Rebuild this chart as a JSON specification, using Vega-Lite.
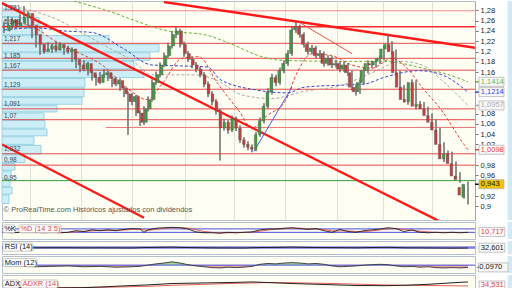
{
"$schema":"https://vega.github.io/schema/vega-lite/v6.json",
"padding":0,
"background":"#ffffff",
"bounds":"flush",
"spacing":2,
"config":{"view":{"stroke":"#b4c0cc","fill":"#fefef3","strokeWidth":1},"font":"Liberation Sans"},
"datasets":{
"candles":[
{"t":0,"o":1.240,"h":1.258,"l":1.236,"c":1.251},{"t":1,"o":1.251,"h":1.268,"l":1.246,"c":1.261},{"t":2,"o":1.261,"h":1.266,"l":1.243,"c":1.248},{"t":3,"o":1.248,"h":1.262,"l":1.244,"c":1.255},{"t":4,"o":1.255,"h":1.272,"l":1.250,"c":1.266},{"t":5,"o":1.266,"h":1.288,"l":1.260,"c":1.274},{"t":6,"o":1.274,"h":1.278,"l":1.246,"c":1.251},{"t":7,"o":1.251,"h":1.255,"l":1.226,"c":1.233},{"t":8,"o":1.233,"h":1.238,"l":1.208,"c":1.214},{"t":9,"o":1.214,"h":1.219,"l":1.194,"c":1.200},
{"t":10,"o":1.200,"h":1.212,"l":1.196,"c":1.205},{"t":11,"o":1.205,"h":1.218,"l":1.200,"c":1.211},{"t":12,"o":1.211,"h":1.215,"l":1.198,"c":1.203},{"t":13,"o":1.203,"h":1.220,"l":1.199,"c":1.214},{"t":14,"o":1.214,"h":1.218,"l":1.202,"c":1.207},{"t":15,"o":1.207,"h":1.211,"l":1.194,"c":1.200},{"t":16,"o":1.200,"h":1.211,"l":1.196,"c":1.205},{"t":17,"o":1.205,"h":1.208,"l":1.180,"c":1.185},{"t":18,"o":1.185,"h":1.190,"l":1.168,"c":1.174},{"t":19,"o":1.174,"h":1.178,"l":1.160,"c":1.166},
{"t":20,"o":1.166,"h":1.183,"l":1.162,"c":1.177},{"t":21,"o":1.177,"h":1.180,"l":1.154,"c":1.159},{"t":22,"o":1.159,"h":1.164,"l":1.144,"c":1.150},{"t":23,"o":1.150,"h":1.155,"l":1.134,"c":1.140},{"t":24,"o":1.140,"h":1.160,"l":1.137,"c":1.155},{"t":25,"o":1.155,"h":1.166,"l":1.150,"c":1.159},{"t":26,"o":1.159,"h":1.163,"l":1.143,"c":1.148},{"t":27,"o":1.148,"h":1.152,"l":1.131,"c":1.137},{"t":28,"o":1.137,"h":1.150,"l":1.133,"c":1.144},{"t":29,"o":1.144,"h":1.148,"l":1.124,"c":1.129},
{"t":30,"o":1.129,"h":1.133,"l":1.112,"c":1.118},{"t":31,"o":1.118,"h":1.122,"l":1.039,"c":1.103},{"t":32,"o":1.103,"h":1.119,"l":1.096,"c":1.113},{"t":33,"o":1.113,"h":1.116,"l":1.075,"c":1.081},{"t":34,"o":1.081,"h":1.086,"l":1.056,"c":1.063},{"t":35,"o":1.063,"h":1.094,"l":1.058,"c":1.089},{"t":36,"o":1.089,"h":1.113,"l":1.084,"c":1.107},{"t":37,"o":1.107,"h":1.146,"l":1.103,"c":1.140},{"t":38,"o":1.140,"h":1.161,"l":1.136,"c":1.155},{"t":39,"o":1.155,"h":1.179,"l":1.150,"c":1.174},
{"t":40,"o":1.174,"h":1.198,"l":1.170,"c":1.192},{"t":41,"o":1.192,"h":1.217,"l":1.188,"c":1.211},{"t":42,"o":1.211,"h":1.240,"l":1.206,"c":1.233},{"t":43,"o":1.233,"h":1.248,"l":1.226,"c":1.240},{"t":44,"o":1.240,"h":1.244,"l":1.208,"c":1.214},{"t":45,"o":1.214,"h":1.219,"l":1.190,"c":1.196},{"t":46,"o":1.196,"h":1.201,"l":1.180,"c":1.185},{"t":47,"o":1.185,"h":1.190,"l":1.168,"c":1.174},{"t":48,"o":1.174,"h":1.180,"l":1.160,"c":1.166},{"t":49,"o":1.166,"h":1.170,"l":1.150,"c":1.155},
{"t":50,"o":1.155,"h":1.160,"l":1.131,"c":1.137},{"t":51,"o":1.137,"h":1.142,"l":1.112,"c":1.118},{"t":52,"o":1.118,"h":1.123,"l":1.096,"c":1.103},{"t":53,"o":1.103,"h":1.108,"l":1.078,"c":1.085},{"t":54,"o":1.085,"h":1.089,"l":0.989,"c":1.052},{"t":55,"o":1.052,"h":1.070,"l":1.047,"c":1.063},{"t":56,"o":1.063,"h":1.067,"l":1.041,"c":1.048},{"t":57,"o":1.048,"h":1.076,"l":1.044,"c":1.070},{"t":58,"o":1.070,"h":1.074,"l":1.046,"c":1.052},{"t":59,"o":1.052,"h":1.057,"l":1.023,"c":1.029},
{"t":60,"o":1.029,"h":1.034,"l":1.014,"c":1.020},{"t":61,"o":1.020,"h":1.026,"l":1.009,"c":1.015},{"t":62,"o":1.015,"h":1.020,"l":1.005,"c":1.011},{"t":63,"o":1.011,"h":1.044,"l":1.007,"c":1.039},{"t":64,"o":1.039,"h":1.072,"l":1.035,"c":1.066},{"t":65,"o":1.066,"h":1.100,"l":1.061,"c":1.094},{"t":66,"o":1.094,"h":1.129,"l":1.089,"c":1.122},{"t":67,"o":1.122,"h":1.157,"l":1.117,"c":1.150},{"t":68,"o":1.150,"h":1.155,"l":1.133,"c":1.140},{"t":69,"o":1.140,"h":1.169,"l":1.136,"c":1.163},
{"t":70,"o":1.163,"h":1.183,"l":1.158,"c":1.177},{"t":71,"o":1.177,"h":1.203,"l":1.172,"c":1.196},{"t":72,"o":1.196,"h":1.249,"l":1.192,"c":1.242},{"t":73,"o":1.242,"h":1.257,"l":1.236,"c":1.248},{"t":74,"o":1.248,"h":1.252,"l":1.227,"c":1.233},{"t":75,"o":1.233,"h":1.237,"l":1.208,"c":1.214},{"t":76,"o":1.214,"h":1.219,"l":1.194,"c":1.200},{"t":77,"o":1.200,"h":1.213,"l":1.196,"c":1.207},{"t":78,"o":1.207,"h":1.211,"l":1.186,"c":1.192},{"t":79,"o":1.192,"h":1.203,"l":1.187,"c":1.196},
{"t":80,"o":1.196,"h":1.200,"l":1.171,"c":1.177},{"t":81,"o":1.177,"h":1.193,"l":1.173,"c":1.187},{"t":82,"o":1.187,"h":1.191,"l":1.168,"c":1.174},{"t":83,"o":1.174,"h":1.184,"l":1.169,"c":1.177},{"t":84,"o":1.177,"h":1.181,"l":1.160,"c":1.166},{"t":85,"o":1.166,"h":1.180,"l":1.161,"c":1.174},{"t":86,"o":1.174,"h":1.178,"l":1.153,"c":1.159},{"t":87,"o":1.159,"h":1.163,"l":1.125,"c":1.131},{"t":88,"o":1.131,"h":1.136,"l":1.115,"c":1.122},{"t":89,"o":1.122,"h":1.146,"l":1.118,"c":1.140},
{"t":90,"o":1.140,"h":1.169,"l":1.136,"c":1.163},{"t":91,"o":1.163,"h":1.183,"l":1.158,"c":1.177},{"t":92,"o":1.177,"h":1.182,"l":1.168,"c":1.174},{"t":93,"o":1.174,"h":1.187,"l":1.169,"c":1.181},{"t":94,"o":1.181,"h":1.193,"l":1.176,"c":1.187},{"t":95,"o":1.187,"h":1.212,"l":1.183,"c":1.205},{"t":96,"o":1.205,"h":1.233,"l":1.200,"c":1.214},{"t":97,"o":1.214,"h":1.220,"l":1.194,"c":1.200},{"t":98,"o":1.200,"h":1.204,"l":1.153,"c":1.159},{"t":99,"o":1.159,"h":1.163,"l":1.125,"c":1.131},
{"t":100,"o":1.131,"h":1.135,"l":1.101,"c":1.107},{"t":101,"o":1.107,"h":1.112,"l":1.097,"c":1.103},{"t":102,"o":1.103,"h":1.146,"l":1.099,"c":1.140},{"t":103,"o":1.140,"h":1.144,"l":1.088,"c":1.094},{"t":104,"o":1.094,"h":1.104,"l":1.089,"c":1.098},{"t":105,"o":1.098,"h":1.102,"l":1.083,"c":1.089},{"t":106,"o":1.089,"h":1.093,"l":1.070,"c":1.076},{"t":107,"o":1.076,"h":1.080,"l":1.057,"c":1.063},{"t":108,"o":1.063,"h":1.068,"l":1.042,"c":1.048},{"t":109,"o":1.048,"h":1.052,"l":1.014,"c":1.020},
{"t":110,"o":1.020,"h":1.024,"l":0.986,"c":0.992},{"t":111,"o":0.992,"h":1.008,"l":0.987,"c":1.002},{"t":112,"o":1.002,"h":1.006,"l":0.977,"c":0.983},{"t":113,"o":0.983,"h":0.987,"l":0.953,"c":0.959},{"t":114,"o":0.959,"h":0.966,"l":0.946,"c":0.952},{"t":115,"o":0.937,"h":0.941,"l":0.915,"c":0.922},{"t":116,"o":0.918,"h":0.948,"l":0.904,"c":0.943}
],
"ma":[
{"k":"long","t":15,"v":1.303},{"k":"long","t":22,"v":1.288},{"k":"long","t":26,"v":1.279},{"k":"long","t":32,"v":1.262},{"k":"long","t":41,"v":1.240},{"k":"long","t":50,"v":1.233},{"k":"long","t":57,"v":1.214},{"k":"long","t":64.5,"v":1.190},{"k":"long","t":69.5,"v":1.183},{"k":"long","t":84.5,"v":1.181},{"k":"long","t":94.5,"v":1.181},{"k":"long","t":99.5,"v":1.177},{"k":"long","t":104.5,"v":1.168},{"k":"long","t":109.5,"v":1.159},{"k":"long","t":116,"v":1.1414},
{"k":"mid","t":0,"v":1.242},{"k":"mid","t":8,"v":1.246},{"k":"mid","t":15,"v":1.240},{"k":"mid","t":22,"v":1.237},{"k":"mid","t":30,"v":1.205},{"k":"mid","t":37,"v":1.174},{"k":"mid","t":45,"v":1.172},{"k":"mid","t":51,"v":1.170},{"k":"mid","t":54,"v":1.146},{"k":"mid","t":62.75,"v":1.126},{"k":"mid","t":71,"v":1.120},{"k":"mid","t":75,"v":1.131},{"k":"mid","t":84.5,"v":1.135},{"k":"mid","t":90,"v":1.137},{"k":"mid","t":95,"v":1.150},{"k":"mid","t":103.75,"v":1.163},{"k":"mid","t":109.5,"v":1.155},{"k":"mid","t":116,"v":1.1214},
{"k":"slow","t":0,"v":1.290},{"k":"slow","t":5,"v":1.283},{"k":"slow","t":12.75,"v":1.264},{"k":"slow","t":20.25,"v":1.233},{"k":"slow","t":25.75,"v":1.209},{"k":"slow","t":32,"v":1.183},{"k":"slow","t":37,"v":1.155},{"k":"slow","t":47,"v":1.155},{"k":"slow","t":52.75,"v":1.146},{"k":"slow","t":59.5,"v":1.116},{"k":"slow","t":67,"v":1.109},{"k":"slow","t":74.5,"v":1.122},{"k":"slow","t":84.5,"v":1.135},{"k":"slow","t":92,"v":1.159},{"k":"slow","t":99.5,"v":1.181},{"k":"slow","t":104.5,"v":1.174},{"k":"slow","t":109.5,"v":1.144},{"k":"slow","t":116,"v":1.0957},
{"k":"fast","t":0,"v":1.261},{"k":"fast","t":7.75,"v":1.246},{"k":"fast","t":13.25,"v":1.218},{"k":"fast","t":17.75,"v":1.201},{"k":"fast","t":24.5,"v":1.174},{"k":"fast","t":32,"v":1.122},{"k":"fast","t":35.75,"v":1.107},{"k":"fast","t":39.5,"v":1.137},{"k":"fast","t":44.5,"v":1.187},{"k":"fast","t":48.75,"v":1.190},{"k":"fast","t":53.25,"v":1.140},{"k":"fast","t":58.75,"v":1.085},{"k":"fast","t":62,"v":1.052},{"k":"fast","t":65.75,"v":1.076},{"k":"fast","t":70.25,"v":1.103},{"k":"fast","t":73.25,"v":1.159},{"k":"fast","t":77,"v":1.196},{"k":"fast","t":82,"v":1.192},{"k":"fast","t":87,"v":1.174},{"k":"fast","t":92,"v":1.168},{"k":"fast","t":97,"v":1.187},{"k":"fast","t":100.75,"v":1.168},{"k":"fast","t":104.5,"v":1.131},{"k":"fast","t":109.5,"v":1.085},{"k":"fast","t":115,"v":1.020},{"k":"fast","t":116,"v":1.0098}
],
"trend":[{"id":"a","t":-0.5,"p":1.294},{"id":"a","t":110,"p":0.867},{"id":"b","t":-0.5,"p":1.020},{"id":"b","t":35,"p":0.878},{"id":"c","t":40,"p":1.296},{"id":"c","t":118.25,"p":1.207}],
"thinred":[{"t":73.75,"p":1.257},{"t":87,"p":1.196}],
"thinblue":[{"t":62.5,"p":1.007},{"t":72,"p":1.131}],
"levels":[{"p":1.216},{"p":1.187},{"p":1.164},{"p":1.127},{"p":1.089},{"p":1.068},{"p":1.002},{"p":0.980}],
"vp":[
{"p1":1.2828,"p2":1.2680,"vol":1.8},{"p1":1.2661,"p2":1.2513,"vol":3.7},{"p1":1.2495,"p2":1.2328,"vol":4.0},{"p1":1.2310,"p2":1.2162,"vol":10.7},{"p1":1.2143,"p2":1.1995,"vol":15.7},{"p1":1.1977,"p2":1.1829,"vol":14.8},{"p1":1.1811,"p2":1.1663,"vol":13.2},{"p1":1.1644,"p2":1.1496,"vol":14.2},{"p1":1.1478,"p2":1.1311,"vol":8.3},{"p1":1.1293,"p2":1.1127,"vol":8.2},{"p1":1.1108,"p2":1.0979,"vol":8.0},{"p1":1.0960,"p2":1.0831,"vol":5.5},{"p1":1.0812,"p2":1.0683,"vol":4.2},{"p1":1.0664,"p2":1.0516,"vol":4.3},{"p1":1.0498,"p2":1.0368,"vol":4.5},{"p1":1.0350,"p2":1.0202,"vol":3.2},{"p1":1.0183,"p2":1.0017,"vol":3.9},{"p1":0.9999,"p2":0.9851,"vol":2.3},{"p1":0.9832,"p2":0.9703,"vol":1.3},{"p1":0.9684,"p2":0.9536,"vol":0.9},{"p1":0.9518,"p2":0.9388,"vol":0.8},{"p1":0.9370,"p2":0.9240,"vol":1.0},{"p1":0.9222,"p2":0.9056,"vol":0.7}
],
"vplab":[{"p":1.284,"s":"1,281"},{"p":1.257,"s":"1,243"},{"p":1.224,"s":"1,217"},{"p":1.192,"s":"1,185"},{"p":1.172,"s":"1,167"},{"p":1.135,"s":"1,129"},{"p":1.098,"s":"1,091"},{"p":1.076,"s":"1,07"},{"p":1.011,"s":"1,032"},{"p":0.989,"s":"0,98"},{"p":0.955,"s":"0,95"}],
"tags":[{"p":1.1414,"s":"1,1414","k":"long"},{"p":1.1214,"s":"1,1214","k":"mid"},{"p":1.0957,"s":"1,0957","k":"slow"},{"p":1.0098,"s":"1,0098","k":"fast"},{"p":0.943,"s":"0,943","k":"price"}],
"stoch":[
{"t":0,"k":20,"d":20},{"t":2,"k":13,"d":18},{"t":4,"k":20,"d":17},{"t":6,"k":27,"d":20},{"t":8,"k":20,"d":22},{"t":10,"k":13,"d":18},{"t":12,"k":20,"d":16},{"t":14,"k":13,"d":16},{"t":16,"k":20,"d":17},{"t":18,"k":49,"d":30},{"t":20,"k":34,"d":38},{"t":22,"k":63,"d":48},{"t":24,"k":49,"d":52},{"t":26,"k":63,"d":56},{"t":28,"k":49,"d":55},{"t":30,"k":71,"d":60},{"t":32,"k":85,"d":70},{"t":34,"k":78,"d":80},{"t":35,"k":20,"d":62},{"t":36,"k":63,"d":55},{"t":38,"k":92,"d":70},{"t":40,"k":100,"d":90},{"t":42,"k":107,"d":100},{"t":44,"k":100,"d":103},{"t":46,"k":78,"d":95},{"t":48,"k":27,"d":65},{"t":50,"k":13,"d":35},{"t":52,"k":13,"d":18},{"t":54,"k":5,"d":10},{"t":56,"k":20,"d":12},{"t":58,"k":13,"d":14},{"t":60,"k":20,"d":18},{"t":62,"k":27,"d":22},{"t":64,"k":63,"d":40},{"t":66,"k":78,"d":60},{"t":68,"k":78,"d":75},{"t":70,"k":92,"d":83},{"t":72,"k":100,"d":92},{"t":74,"k":85,"d":92},{"t":76,"k":71,"d":82},{"t":78,"k":85,"d":78},{"t":80,"k":49,"d":68},{"t":82,"k":20,"d":45},{"t":84,"k":71,"d":45},{"t":86,"k":34,"d":45},{"t":88,"k":20,"d":35},{"t":90,"k":49,"d":32},{"t":92,"k":63,"d":45},{"t":94,"k":78,"d":62},{"t":96,"k":100,"d":80},{"t":98,"k":85,"d":88},{"t":100,"k":34,"d":70},{"t":102,"k":63,"d":55},{"t":104,"k":20,"d":40},{"t":106,"k":13,"d":28},{"t":108,"k":20,"d":18},{"t":110,"k":13,"d":16},{"t":112,"k":20,"d":17},{"t":114,"k":13,"d":16},{"t":116,"k":20,"d":17}
],
"rsi":[{"t":0,"v":45},{"t":4,"v":55},{"t":8,"v":40},{"t":12,"v":42},{"t":16,"v":43},{"t":20,"v":38},{"t":24,"v":40},{"t":28,"v":38},{"t":32,"v":35},{"t":36,"v":52},{"t":40,"v":60},{"t":42,"v":65},{"t":44,"v":55},{"t":48,"v":45},{"t":52,"v":38},{"t":56,"v":35},{"t":60,"v":33},{"t":64,"v":50},{"t":68,"v":55},{"t":72,"v":65},{"t":76,"v":55},{"t":80,"v":48},{"t":84,"v":46},{"t":88,"v":40},{"t":92,"v":50},{"t":96,"v":58},{"t":100,"v":40},{"t":104,"v":38},{"t":108,"v":33},{"t":112,"v":28},{"t":116,"v":32.6}],
"mom":[{"t":0,"m":-0.035},{"t":4,"m":-0.053},{"t":8,"m":-0.07},{"t":12,"m":-0.053},{"t":16,"m":-0.035},{"t":20,"m":-0.07},{"t":24,"m":-0.053},{"t":28,"m":-0.088},{"t":32,"m":-0.07},{"t":34,"m":-0.053},{"t":36,"m":0},{"t":38,"m":0.053},{"t":40,"m":0.088},{"t":42,"m":0.14},{"t":44,"m":0.088},{"t":46,"m":0.018},{"t":48,"m":-0.035},{"t":50,"m":-0.07},{"t":52,"m":-0.106},{"t":54,"m":-0.12},{"t":56,"m":-0.088},{"t":58,"m":-0.106},{"t":60,"m":-0.088},{"t":62,"m":-0.053},{"t":64,"m":0.035},{"t":66,"m":0.07},{"t":68,"m":0.053},{"t":70,"m":0.088},{"t":72,"m":0.106},{"t":74,"m":0.088},{"t":76,"m":0.053},{"t":78,"m":0.07},{"t":80,"m":0.035},{"t":82,"m":-0.035},{"t":84,"m":-0.07},{"t":86,"m":-0.053},{"t":88,"m":-0.035},{"t":90,"m":0},{"t":92,"m":0.018},{"t":94,"m":0.035},{"t":96,"m":0.018},{"t":98,"m":-0.035},{"t":100,"m":-0.07},{"t":102,"m":-0.053},{"t":104,"m":-0.088},{"t":106,"m":-0.07},{"t":108,"m":-0.106},{"t":110,"m":-0.12},{"t":112,"m":-0.106},{"t":114,"m":-0.12},{"t":116,"m":-0.097}],
"adx":[{"t":0,"a":25,"r":28},{"t":10,"a":24,"r":27},{"t":20,"a":26,"r":27},{"t":25,"a":30,"r":28},{"t":30,"a":35,"r":30},{"t":36,"a":40,"r":33},{"t":42,"a":47,"r":38},{"t":50,"a":50,"r":43},{"t":56,"a":52,"r":47},{"t":62,"a":55,"r":50},{"t":66,"a":52,"r":52},{"t":72,"a":47,"r":51},{"t":80,"a":42,"r":48},{"t":88,"a":37,"r":44},{"t":95,"a":36,"r":40},{"t":100,"a":38,"r":38},{"t":106,"a":43,"r":37},{"t":110,"a":48,"r":36},{"t":114,"a":53,"r":35},{"t":116,"a":55,"r":34.5}]
},
"vconcat":[
{"width":473,"height":219,
 "resolve":{"scale":{"x":"independent"},"axis":{"x":"independent","y":"independent"}},
 "layer":[
   {"data":{"values":[{}]},"mark":{"type":"rect","fill":"#d3eaf6","clip":false},
    "encoding":{"x":{"datum":125.9,"type":"quantitative","scale":{"domain":[-0.5,117.75]},"axis":null},"x2":{"datum":131}}},
   {"data":{"name":"vp"},"mark":{"type":"rect","fill":"#cdeef7","stroke":"#86cadd","strokeWidth":0.8},
    "encoding":{"x":{"field":"vol","type":"quantitative","scale":{"domain":[0,47.3]},"axis":null},"x2":{"datum":0},
     "y":{"field":"p1","type":"quantitative","scale":{"domain":[0.8834,1.2883]},"axis":null},"y2":{"field":"p2"}}},
   {"data":{"name":"candles"},"mark":{"type":"rule","color":"#6a6a6a","strokeWidth":1},
    "encoding":{"x":{"field":"t","type":"quantitative","scale":{"domain":[-0.5,117.75]},
      "axis":{"values":[6.5,19.25,32,45.25,57.5,70.25,83.25,94.75,107],"grid":true,"gridColor":"#e0e0d6","labels":false,"ticks":false,"domain":false,"title":null}},
     "y":{"field":"l","type":"quantitative","scale":{"domain":[0.8834,1.2883]},
      "axis":{"orient":"right","values":[0.9,0.92,0.96,0.98,1.02,1.04,1.06,1.08,1.16,1.18,1.2,1.22,1.24,1.26,1.28],"labelExpr":"replace(format(datum.value,'.2~f'),'.',',')","title":null,"grid":false,"domain":true,"domainColor":"#9aa8b8","tickSize":3,"tickColor":"#777","labelFontSize":7.5,"labelColor":"#222","labelPadding":2,"labelFont":"Liberation Sans"}},
     "y2":{"field":"h"}}},
   {"data":{"name":"levels"},"mark":{"type":"rule","color":"#e44a4a","strokeWidth":1},
    "encoding":{"y":{"field":"p","type":"quantitative","scale":{"domain":[0.8834,1.2883]},"axis":null}}},
   {"data":{"values":[{}]},"mark":{"type":"rule","color":"#ff2a2a","strokeWidth":1.4},
    "encoding":{"y":{"datum":1.248,"type":"quantitative","scale":{"domain":[0.8834,1.2883]},"axis":null}}},
   {"data":{"values":[{}]},"mark":{"type":"rule","color":"#f08c8c","strokeWidth":1},
    "encoding":{"y":{"datum":1.279,"type":"quantitative","scale":{"domain":[0.8834,1.2883]},"axis":null}}},
   {"data":{"values":[{}]},"mark":{"type":"rule","color":"#3c9a3c","strokeWidth":1},
    "encoding":{"y":{"datum":0.950,"type":"quantitative","scale":{"domain":[0.8834,1.2883]},"axis":null}}},
   {"data":{"values":[{}]},"mark":{"type":"rule","color":"#ee7878","strokeWidth":1},
    "encoding":{"x":{"datum":25.5,"type":"quantitative","scale":{"domain":[-0.5,117.75]},"axis":null},"x2":{"datum":117.75},
     "y":{"datum":1.053,"type":"quantitative","scale":{"domain":[0.8834,1.2883]},"axis":null}}},
   {"data":{"name":"ma"},"mark":{"type":"line","strokeDash":[3,2],"strokeWidth":1,"clip":true,"interpolate":"monotone"},
    "encoding":{"x":{"field":"t","type":"quantitative","scale":{"domain":[-0.5,117.75]},"axis":null},
     "y":{"field":"v","type":"quantitative","scale":{"domain":[0.8834,1.2883]},"axis":null},
     "detail":{"field":"k"},
     "color":{"field":"k","type":"nominal","scale":{"domain":["long","mid","slow","fast","price"],"range":["#6cb33a","#3443d0","#a9a9a9","#e63c3c","#111111"]},"legend":null}}},
   {"data":{"name":"trend"},"mark":{"type":"line","color":"#ff1a1a","strokeWidth":2.4,"clip":true},
    "encoding":{"x":{"field":"t","type":"quantitative","scale":{"domain":[-0.5,117.75]},"axis":null},
     "y":{"field":"p","type":"quantitative","scale":{"domain":[0.8834,1.2883]},"axis":null},"detail":{"field":"id"}}},
   {"data":{"name":"thinred"},"mark":{"type":"line","color":"#f05050","strokeWidth":1,"clip":true},
    "encoding":{"x":{"field":"t","type":"quantitative","scale":{"domain":[-0.5,117.75]},"axis":null},
     "y":{"field":"p","type":"quantitative","scale":{"domain":[0.8834,1.2883]},"axis":null}}},
   {"data":{"name":"thinblue"},"mark":{"type":"line","color":"#4a5ae8","strokeWidth":1,"clip":true},
    "encoding":{"x":{"field":"t","type":"quantitative","scale":{"domain":[-0.5,117.75]},"axis":null},
     "y":{"field":"p","type":"quantitative","scale":{"domain":[0.8834,1.2883]},"axis":null}}},
   {"data":{"name":"candles"},"mark":{"type":"rule","color":"#6a6a6a","strokeWidth":1},
    "encoding":{"x":{"field":"t","type":"quantitative","scale":{"domain":[-0.5,117.75]},"axis":null},
     "y":{"field":"l","type":"quantitative","scale":{"domain":[0.8834,1.2883]},"axis":null},"y2":{"field":"h"}}},
   {"data":{"name":"candles"},"mark":{"type":"bar","width":2.6,"stroke":"#555555","strokeWidth":0.4},
    "encoding":{"x":{"field":"t","type":"quantitative","scale":{"domain":[-0.5,117.75]},"axis":null},
     "y":{"field":"o","type":"quantitative","scale":{"domain":[0.8834,1.2883]},"axis":null},"y2":{"field":"c"},
     "color":{"condition":{"test":"datum.c >= datum.o","value":"#3f9d3f"},"value":"#c04040"}}},
   {"data":{"values":[{}]},"mark":{"type":"text","text":"© ProRealTime.com  Históricos ajustados con dividendos","align":"left","baseline":"middle","fontSize":7.5,"color":"#555555"},
    "encoding":{"x":{"datum":-0.1,"type":"quantitative","scale":{"domain":[-0.5,117.75]},"axis":null},
     "y":{"datum":0.894,"type":"quantitative","scale":{"domain":[0.8834,1.2883]},"axis":null}}},
   {"data":{"name":"vplab"},"mark":{"type":"text","align":"left","baseline":"middle","fontSize":6.5,"color":"#444444"},
    "encoding":{"x":{"datum":0,"type":"quantitative","scale":{"domain":[-0.5,117.75]},"axis":null},
     "y":{"field":"p","type":"quantitative","scale":{"domain":[0.8834,1.2883]},"axis":null},"text":{"field":"s"}}},
   {"data":{"name":"tags"},"mark":{"type":"rule","strokeWidth":1.5,"clip":false},
    "encoding":{"x":{"datum":117.75,"type":"quantitative","scale":{"domain":[-0.5,117.75]},"axis":null},"x2":{"datum":118.75},
     "y":{"field":"p","type":"quantitative","scale":{"domain":[0.8834,1.2883]},"axis":null},
     "color":{"field":"k","type":"nominal","scale":{"domain":["long","mid","slow","fast","price"],"range":["#6cb33a","#3443d0","#a9a9a9","#e63c3c","#111111"]},"legend":null}}},
   {"data":{"name":"tags"},"mark":{"type":"bar","height":9,"stroke":"#b4b4b4","strokeWidth":0.8,"clip":false},
    "encoding":{"x":{"datum":118.75,"type":"quantitative","scale":{"domain":[-0.5,117.75]},"axis":null},"x2":{"datum":125},
     "y":{"field":"p","type":"quantitative","scale":{"domain":[0.8834,1.2883]},"axis":null},
     "fill":{"condition":{"test":"datum.k == 'price'","value":"#f2c300"},"value":"#f9f9f9"}}},
   {"data":{"name":"tags"},"mark":{"type":"text","align":"left","baseline":"middle","fontSize":7.5,"clip":false},
    "encoding":{"x":{"datum":119.2,"type":"quantitative","scale":{"domain":[-0.5,117.75]},"axis":null},
     "y":{"field":"p","type":"quantitative","scale":{"domain":[0.8834,1.2883]},"axis":null},"text":{"field":"s"},
     "color":{"field":"k","type":"nominal","scale":{"domain":["long","mid","slow","fast","price"],"range":["#6cb33a","#3443d0","#a9a9a9","#e63c3c","#111111"]},"legend":null}}}
 ]},
{"width":473,"height":17,
 "layer":[
  {"data":{"values":[{}]},"mark":{"type":"rect","fill":"#d3eaf6","clip":false},
   "encoding":{"x":{"datum":125.9,"type":"quantitative","scale":{"domain":[-0.5,117.75]},"axis":null},"x2":{"datum":131}}},
  {"data":{"values":[{"v":80},{"v":20}]},"mark":{"type":"rule","color":"#4c4cdc","strokeWidth":1},
   "encoding":{"y":{"field":"v","type":"quantitative","scale":{"domain":[-9,113]},"axis":null}}},
  {"data":{"name":"stoch"},"mark":{"type":"line","color":"#e66060","strokeWidth":1,"clip":true},
   "encoding":{"x":{"field":"t","type":"quantitative","scale":{"domain":[-0.5,117.75]},"axis":null},
    "y":{"field":"d","type":"quantitative","scale":{"domain":[-9,113]},"axis":null}}},
  {"data":{"name":"stoch"},"mark":{"type":"line","color":"#222222","strokeWidth":0.9,"clip":true},
   "encoding":{"x":{"field":"t","type":"quantitative","scale":{"domain":[-0.5,117.75]},"axis":null},
    "y":{"field":"k","type":"quantitative","scale":{"domain":[-9,113]},"axis":null}}},
  {"data":{"values":[{"a":-0.25,"b":2.75},{"a":3.75,"b":14.25}]},"mark":{"type":"bar","height":8,"fill":"#ffffff","stroke":"#b0b0b0","strokeWidth":0.7,"cornerRadius":1.5},
   "encoding":{"x":{"field":"a","type":"quantitative","scale":{"domain":[-0.5,117.75]},"axis":null},"x2":{"field":"b"},
    "y":{"datum":81,"type":"quantitative","scale":{"domain":[-9,113]},"axis":null}}},
  {"data":{"values":[{}]},"mark":{"type":"text","text":"%K","align":"left","baseline":"middle","fontSize":7.5,"color":"#111111"},
   "encoding":{"x":{"datum":0.05,"type":"quantitative","scale":{"domain":[-0.5,117.75]},"axis":null},"y":{"datum":81,"type":"quantitative","scale":{"domain":[-9,113]},"axis":null}}},
  {"data":{"values":[{}]},"mark":{"type":"text","text":"%D (14 3 5)","align":"left","baseline":"middle","fontSize":7.5,"color":"#e04848"},
   "encoding":{"x":{"datum":4.1,"type":"quantitative","scale":{"domain":[-0.5,117.75]},"axis":null},"y":{"datum":81,"type":"quantitative","scale":{"domain":[-9,113]},"axis":null}}},
  {"data":{"values":[{}]},"mark":{"type":"bar","height":9,"fill":"#f9f9f9","stroke":"#b4b4b4","strokeWidth":0.8,"clip":false},
   "encoding":{"x":{"datum":118.75,"type":"quantitative","scale":{"domain":[-0.5,117.75]},"axis":null},"x2":{"datum":125.2},
    "y":{"datum":27,"type":"quantitative","scale":{"domain":[-9,113]},"axis":null}}},
  {"data":{"values":[{}]},"mark":{"type":"text","text":"10,717","align":"left","baseline":"middle","fontSize":7.5,"color":"#e04848","clip":false},
   "encoding":{"x":{"datum":119.2,"type":"quantitative","scale":{"domain":[-0.5,117.75]},"axis":null},"y":{"datum":27,"type":"quantitative","scale":{"domain":[-9,113]},"axis":null}}}
 ]},
{"width":473,"height":13,
 "layer":[
  {"data":{"values":[{}]},"mark":{"type":"rect","fill":"#d3eaf6","clip":false},
   "encoding":{"x":{"datum":125.9,"type":"quantitative","scale":{"domain":[-0.5,117.75]},"axis":null},"x2":{"datum":131}}},
  {"data":{"values":[{"v":70},{"v":30}]},"mark":{"type":"rule","color":"#4c4cdc","strokeWidth":1},
   "encoding":{"y":{"field":"v","type":"quantitative","scale":{"domain":[-4,106.6]},"axis":null}}},
  {"data":{"name":"rsi"},"mark":{"type":"line","color":"#222222","strokeWidth":1,"clip":true},
   "encoding":{"x":{"field":"t","type":"quantitative","scale":{"domain":[-0.5,117.75]},"axis":null},
    "y":{"field":"v","type":"quantitative","scale":{"domain":[-4,106.6]},"axis":null}}},
  {"data":{"values":[{}]},"mark":{"type":"bar","height":8,"fill":"#ffffff","stroke":"#b0b0b0","strokeWidth":0.7,"cornerRadius":1.5},
   "encoding":{"x":{"datum":-0.25,"type":"quantitative","scale":{"domain":[-0.5,117.75]},"axis":null},"x2":{"datum":7.25},
    "y":{"datum":64,"type":"quantitative","scale":{"domain":[-4,106.6]},"axis":null}}},
  {"data":{"values":[{}]},"mark":{"type":"text","text":"RSI (14)","align":"left","baseline":"middle","fontSize":7.5,"color":"#111111"},
   "encoding":{"x":{"datum":0.2,"type":"quantitative","scale":{"domain":[-0.5,117.75]},"axis":null},"y":{"datum":64,"type":"quantitative","scale":{"domain":[-4,106.6]},"axis":null}}},
  {"data":{"values":[{}]},"mark":{"type":"bar","height":9,"fill":"#f9f9f9","stroke":"#b4b4b4","strokeWidth":0.8,"clip":false},
   "encoding":{"x":{"datum":118.75,"type":"quantitative","scale":{"domain":[-0.5,117.75]},"axis":null},"x2":{"datum":125.2},
    "y":{"datum":45,"type":"quantitative","scale":{"domain":[-4,106.6]},"axis":null}}},
  {"data":{"values":[{}]},"mark":{"type":"text","text":"32,601","align":"left","baseline":"middle","fontSize":7.5,"color":"#111111","clip":false},
   "encoding":{"x":{"datum":119.2,"type":"quantitative","scale":{"domain":[-0.5,117.75]},"axis":null},"y":{"datum":45,"type":"quantitative","scale":{"domain":[-4,106.6]},"axis":null}}}
 ]},
{"width":473,"height":17,
 "layer":[
  {"data":{"values":[{}]},"mark":{"type":"rect","fill":"#d3eaf6","clip":false},
   "encoding":{"x":{"datum":125.9,"type":"quantitative","scale":{"domain":[-0.5,117.75]},"axis":null},"x2":{"datum":131}}},
  {"data":{"name":"mom"},"mark":{"type":"area","clip":true,"fill":{"gradient":"linear","x1":0,"y1":0,"x2":0,"y2":1,"stops":[{"offset":0,"color":"#a6d49a"},{"offset":0.538,"color":"#a6d49a"},{"offset":0.539,"color":"#e6aaa2"},{"offset":1,"color":"#e6aaa2"}]}},
   "encoding":{"x":{"field":"t","type":"quantitative","scale":{"domain":[-0.5,117.75]},"axis":null},
    "y":{"field":"m","type":"quantitative","scale":{"domain":[-0.123,0.176]},"axis":null},"y2":{"datum":0}}},
  {"data":{"values":[{}]},"mark":{"type":"rule","color":"#4c4cdc","strokeWidth":1},
   "encoding":{"y":{"datum":0,"type":"quantitative","scale":{"domain":[-0.123,0.176]},"axis":null}}},
  {"data":{"name":"mom"},"mark":{"type":"line","color":"#333333","strokeWidth":0.9,"clip":true},
   "encoding":{"x":{"field":"t","type":"quantitative","scale":{"domain":[-0.5,117.75]},"axis":null},
    "y":{"field":"m","type":"quantitative","scale":{"domain":[-0.123,0.176]},"axis":null}}},
  {"data":{"values":[{}]},"mark":{"type":"bar","height":8,"fill":"#ffffff","stroke":"#b0b0b0","strokeWidth":0.7,"cornerRadius":1.5},
   "encoding":{"x":{"datum":-0.25,"type":"quantitative","scale":{"domain":[-0.5,117.75]},"axis":null},"x2":{"datum":8.25},
    "y":{"datum":0.106,"type":"quantitative","scale":{"domain":[-0.123,0.176]},"axis":null}}},
  {"data":{"values":[{}]},"mark":{"type":"text","text":"Mom (12)","align":"left","baseline":"middle","fontSize":7.5,"color":"#111111"},
   "encoding":{"x":{"datum":0.2,"type":"quantitative","scale":{"domain":[-0.5,117.75]},"axis":null},"y":{"datum":0.106,"type":"quantitative","scale":{"domain":[-0.123,0.176]},"axis":null}}},
  {"data":{"values":[{}]},"mark":{"type":"bar","height":9,"fill":"#f9f9f9","stroke":"#b4b4b4","strokeWidth":0.8,"clip":false},
   "encoding":{"x":{"datum":118.6,"type":"quantitative","scale":{"domain":[-0.5,117.75]},"axis":null},"x2":{"datum":126},
    "y":{"datum":-0.097,"type":"quantitative","scale":{"domain":[-0.123,0.176]},"axis":null}}},
  {"data":{"values":[{}]},"mark":{"type":"text","text":"-0,0970","align":"left","baseline":"middle","fontSize":7.5,"color":"#111111","clip":false},
   "encoding":{"x":{"datum":118.2,"type":"quantitative","scale":{"domain":[-0.5,117.75]},"axis":null},"y":{"datum":-0.097,"type":"quantitative","scale":{"domain":[-0.123,0.176]},"axis":null}}}
 ]},
{"width":473,"height":20,
 "layer":[
  {"data":{"values":[{}]},"mark":{"type":"rect","fill":"#d3eaf6","clip":false},
   "encoding":{"x":{"datum":125.9,"type":"quantitative","scale":{"domain":[-0.5,117.75]},"axis":null},"x2":{"datum":131}}},
  {"data":{"name":"adx"},"mark":{"type":"line","color":"#e66060","strokeWidth":1,"clip":true},
   "encoding":{"x":{"field":"t","type":"quantitative","scale":{"domain":[-0.5,117.75]},"axis":null},
    "y":{"field":"r","type":"quantitative","scale":{"domain":[14,65]},"axis":null}}},
  {"data":{"name":"adx"},"mark":{"type":"line","color":"#222222","strokeWidth":1,"clip":true},
   "encoding":{"x":{"field":"t","type":"quantitative","scale":{"domain":[-0.5,117.75]},"axis":null},
    "y":{"field":"a","type":"quantitative","scale":{"domain":[14,65]},"axis":null}}},
  {"data":{"values":[{"a":-0.25,"b":3.75},{"a":4.25,"b":13.5}]},"mark":{"type":"bar","height":8,"fill":"#ffffff","stroke":"#b0b0b0","strokeWidth":0.7,"cornerRadius":1.5},
   "encoding":{"x":{"field":"a","type":"quantitative","scale":{"domain":[-0.5,117.75]},"axis":null},"x2":{"field":"b"},
    "y":{"datum":44.6,"type":"quantitative","scale":{"domain":[14,65]},"axis":null}}},
  {"data":{"values":[{}]},"mark":{"type":"text","text":"ADX","align":"left","baseline":"middle","fontSize":7.5,"color":"#111111"},
   "encoding":{"x":{"datum":0.2,"type":"quantitative","scale":{"domain":[-0.5,117.75]},"axis":null},"y":{"datum":44.6,"type":"quantitative","scale":{"domain":[14,65]},"axis":null}}},
  {"data":{"values":[{}]},"mark":{"type":"text","text":"ADXR (14)","align":"left","baseline":"middle","fontSize":7.5,"color":"#e04848"},
   "encoding":{"x":{"datum":4.6,"type":"quantitative","scale":{"domain":[-0.5,117.75]},"axis":null},"y":{"datum":44.6,"type":"quantitative","scale":{"domain":[14,65]},"axis":null}}},
  {"data":{"values":[{}]},"mark":{"type":"bar","height":9,"fill":"#f9f9f9","stroke":"#b4b4b4","strokeWidth":0.8,"clip":false},
   "encoding":{"x":{"datum":118.75,"type":"quantitative","scale":{"domain":[-0.5,117.75]},"axis":null},"x2":{"datum":125.2},
    "y":{"datum":37,"type":"quantitative","scale":{"domain":[14,65]},"axis":null}}},
  {"data":{"values":[{}]},"mark":{"type":"text","text":"34,531","align":"left","baseline":"middle","fontSize":7.5,"color":"#e04848","clip":false},
   "encoding":{"x":{"datum":119.2,"type":"quantitative","scale":{"domain":[-0.5,117.75]},"axis":null},"y":{"datum":37,"type":"quantitative","scale":{"domain":[14,65]},"axis":null}}}
 ]}
]
}
